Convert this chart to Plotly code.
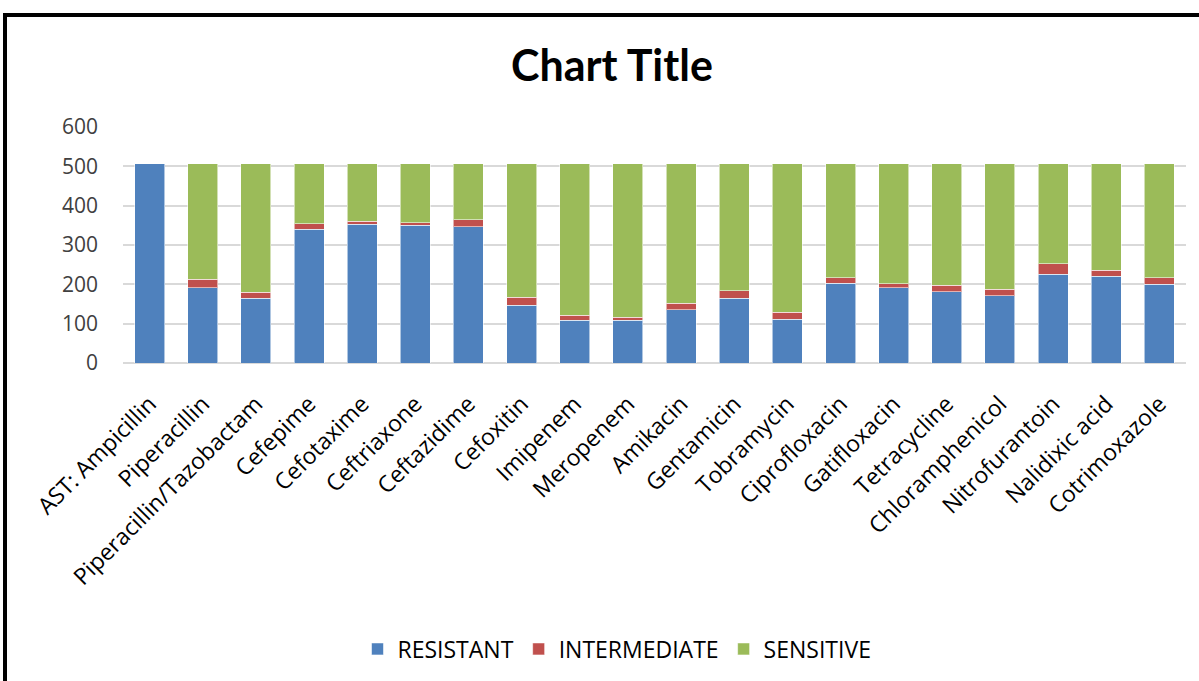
import plotly.graph_objects as go

antibiotics = [
    "AST: Ampicillin", "Piperacillin", "Piperacillin/Tazobactam", "Cefepime",
    "Cefotaxime", "Ceftriaxone", "Ceftazidime", "Cefoxitin", "Imipenem",
    "Meropenem", "Amikacin", "Gentamicin", "Tobramycin", "Ciprofloxacin",
    "Gatifloxacin", "Tetracycline", "Chloramphenicol", "Nitrofurantoin",
    "Nalidixic acid", "Cotrimoxazole",
]
resistant = [507, 191, 164, 340, 353, 350, 347, 147, 109, 109,
             135, 164, 111, 203, 191, 181, 171, 226, 220, 200]
intermediate = [0, 22, 16, 14, 7, 7, 17, 20, 13, 7,
                17, 20, 18, 14, 10, 17, 16, 26, 16, 17]
sensitive = [0, 294, 327, 153, 147, 150, 143, 340, 385, 391,
             355, 323, 378, 290, 306, 309, 320, 255, 271, 290]
y_ticks = [0, 100, 200, 300, 400, 500, 600]

series = [
    ("RESISTANT", resistant, "#4F81BD"),
    ("INTERMEDIATE", intermediate, "#C0504D"),
    ("SENSITIVE", sensitive, "#9BBB59"),
]

fig = go.Figure()
for name, vals, color in series:
    fig.add_trace(go.Bar(
        x=antibiotics, y=vals, name=name,
        marker=dict(color=color, line=dict(color="rgba(255,255,255,0.55)", width=1)),
    ))

# plot area geometry in pixels
W, H = 1199, 681
L, R, T, B = 123, 13, 127, 318
pw, ph = W - L - R, H - T - B

def px_x(x):
    return (x - L) / pw

def px_y(y):
    return (H - B - y) / ph

font_title = "Lato, 'Open Sans', sans-serif"
font_text = "'Open Sans', 'Noto Sans', sans-serif"

fig.update_layout(
    width=W, height=H,
    margin=dict(l=L, r=R, t=T, b=B, autoexpand=False),
    paper_bgcolor="white", plot_bgcolor="white",
    barmode="stack", bargap=0.435,
    font=dict(family=font_text, color="#000000"),
    title=dict(text="<b>Chart Title</b>", x=612 / W, xanchor="center",
               y=1 - 66 / H, yanchor="middle",
               font=dict(size=43, family=font_title, color="#000000")),
    xaxis=dict(tickangle=-45, tickfont=dict(size=23, color="#000000"),
               showgrid=False, showline=False, ticks="", ticklabelstandoff=22),
    yaxis=dict(range=[0, 600], tickvals=y_ticks, tickfont=dict(size=21, color="#404040"),
               showgrid=True, gridcolor="#D9D9D9", gridwidth=1.5,
               zeroline=True, zerolinecolor="#D9D9D9", zerolinewidth=1.5,
               showline=False, ticks="", ticklabelstandoff=24),
    legend=dict(orientation="h", x=px_x(617), xanchor="center",
                y=px_y(649), yanchor="middle", traceorder="normal",
                font=dict(size=23, color="#000000"), itemwidth=30),
    showlegend=True,
    shapes=[
        dict(type="rect", xref="paper", yref="paper",
             x0=px_x(5), x1=px_x(1210), y0=px_y(15), y1=px_y(700),
             line=dict(color="black", width=4), layer="above"),
    ],
)

fig.write_html("out.html")
